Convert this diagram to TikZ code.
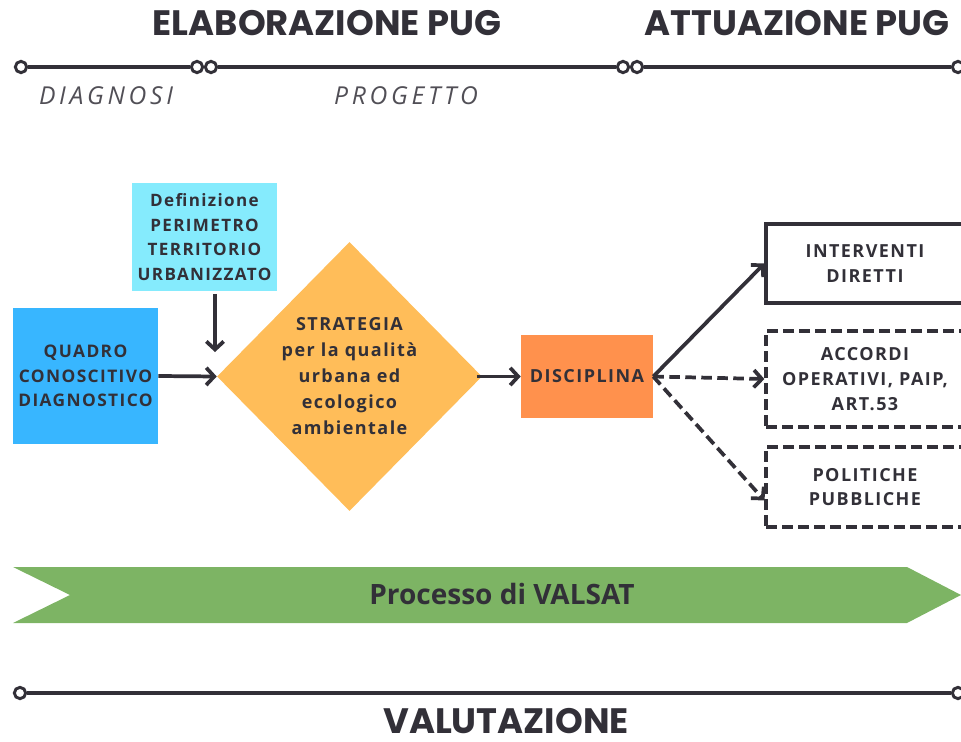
\documentclass[tikz,border=0pt]{standalone}
\usepackage{fontspec}
\setmainfont{Open Sans}
\newfontfamily\headfont{Poppins}
\newfontfamily\bodyfont{Open Sans}[LetterSpace=8]
\newfontfamily\phasefont{Open Sans}[LetterSpace=15]
\usetikzlibrary{shapes.geometric,arrows.meta}

\definecolor{ink}{RGB}{50,48,56}
\definecolor{cyanbox}{RGB}{133,235,253}
\definecolor{bluebox}{RGB}{56,182,255}
\definecolor{strategy}{RGB}{255,189,89}
\definecolor{discbox}{RGB}{255,145,77}
\definecolor{valsat}{RGB}{125,180,100}

\begin{document}
\begin{tikzpicture}[x=0.75pt,y=-0.75pt,
    dot/.style={circle,draw=ink,fill=white,line width=2.2pt,inner sep=0pt,minimum size=8.5pt},
    rail/.style={ink,line width=2.4pt},
    head/.style={text=ink,anchor=base,font=\headfont\bfseries\fontsize{26.5}{30}\selectfont},
    phase/.style={text=ink!85,anchor=base,font=\phasefont\itshape\fontsize{18.5}{22}\selectfont},
    box/.style={align=center,inner sep=0pt,text=ink,font=\bodyfont\bfseries\fontsize{13.5}{18.5}\selectfont},
    outbox/.style={box,draw=ink,line width=2.4pt,minimum width=148.5pt,anchor=center},
    arr/.style={ink,line width=2.8pt,-{Straight Barb[length=6pt,width=13pt]}},
    dasharr/.style={arr,dash pattern=on 8pt off 4pt},
  ]
\useasboundingbox (0,0) rectangle (961,742);
\clip (0,0) rectangle (961,742);

    % fasi in alto
    \node[head] (elab) at (327,36) {ELABORAZIONE PUG};
    \node[head] (attu) at (797,36) {ATTUAZIONE PUG};
    \node[dot] (t1) at (21,67) {};
    \node[dot] (t2) at (197,67) {};
    \node[dot] (t3) at (211,67) {};
    \node[dot] (t4) at (623,67) {};
    \node[dot] (t5) at (637,67) {};
    \node[dot] (t6) at (958,67) {};
    \draw[rail] (t1) -- (t2);
    \draw[rail] (t3) -- (t4);
    \draw[rail] (t5) -- (t6);
    \node[phase] (diag) at (106,105) {DIAGNOSI};
    \node[phase] (prog) at (406,105) {PROGETTO};

    % schema
    \node[box,fill=cyanbox,minimum width=108.75pt,minimum height=81pt,
          font=\bodyfont\bfseries\fontsize{12.8}{18.3}\selectfont] (def) at (204.5,237)
        {Definizione\\PERIMETRO\\TERRITORIO\\URBANIZZATO};
    \node[box,fill=bluebox,minimum width=108.75pt,minimum height=102pt,
          font=\bodyfont\bfseries\fontsize{13}{18.5}\selectfont] (qua) at (85.5,376)
        {QUADRO\\CONOSCITIVO\\DIAGNOSTICO};
    \node[box,diamond,fill=strategy,minimum width=198.75pt,minimum height=201.75pt,
          font=\bodyfont\bfseries\fontsize{13.5}{19.5}\selectfont] (str) at (349.5,376.5)
        {STRATEGIA\\per la qualità\\urbana ed\\ecologico\\ambientale};
    \node[box,fill=discbox,minimum width=99pt,minimum height=62.25pt] (disc) at (587,376.5) {DISCIPLINA};
    \node[outbox,minimum height=59.25pt] (int) at (865,263.5) {INTERVENTI\\DIRETTI};
    \node[outbox,dash pattern=on 8pt off 4pt,minimum height=72pt] (acc) at (865,379)
        {ACCORDI\\OPERATIVI, PAIP,\\ART.53};
    \node[outbox,dash pattern=on 8pt off 4pt,minimum height=60pt] (pol) at (865,487)
        {POLITICHE\\PUBBLICHE};
    \coordinate (perim) at (215,352);

    \draw[arr] ([yshift=-2pt]def.south -| perim) -- (perim);
    \draw[arr] (qua.east) -- (str.west);
    \draw[arr] ([xshift=-4pt]str.east) -- (disc.west);
    \draw[arr] (disc.east) -- (int.west);
    \draw[dasharr] (disc.east) -- (acc.west);
    \draw[dasharr] (disc.east) -- ([yshift=-10pt]pol.west);

    % banda VALSAT
    \fill[valsat] (13,567) -- (907,567) -- (961,595) -- (907,623) -- (13,623) -- (70,595) -- cycle;
    \node[text=ink,font=\bfseries\fontsize{21}{24}\selectfont] (vals) at (502,594) {Processo di VALSAT};

    % valutazione
    \node[dot] (b1) at (20,693) {};
    \node[dot] (b2) at (958,693) {};
    \draw[rail] (b1) -- (b2);
    \node[head] (valu) at (506,733) {VALUTAZIONE};

\end{tikzpicture}
\end{document}
